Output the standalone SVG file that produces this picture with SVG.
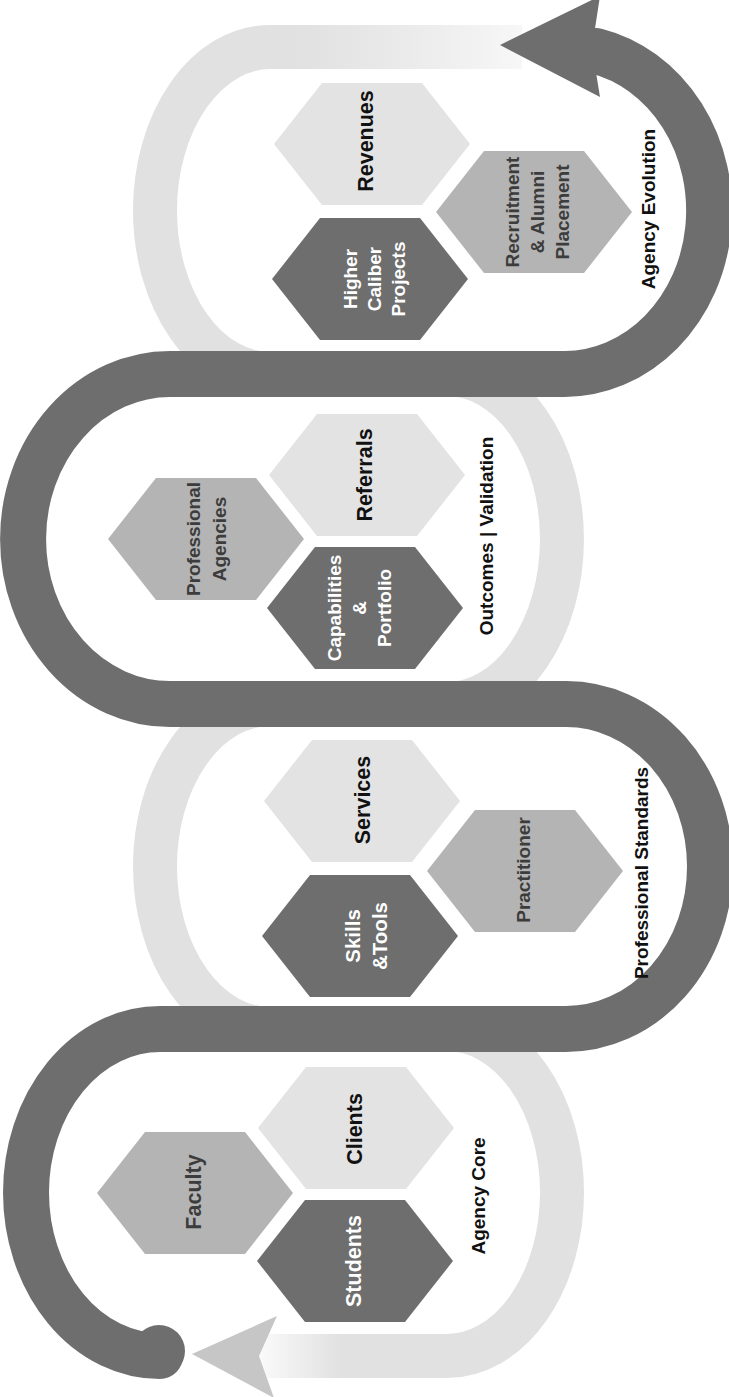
<svg xmlns="http://www.w3.org/2000/svg" xmlns:xlink="http://www.w3.org/1999/xlink" width="729" height="1397" viewBox="0 0 729 1397">
  <defs>
    <style>
      .dark { fill: #6e6e6e; }
      .mid { fill: #b4b4b4; }
      .light { fill: #e3e3e3; }
      .band-dark { fill: none; stroke: #6e6e6e; stroke-width: 46; stroke-linecap: round; }
      .band-light { fill: none; stroke: #e1e1e1; stroke-width: 44; }
      text { font-family: "Liberation Sans", Arial, sans-serif; font-weight: 700; text-anchor: middle; }
      .t-white { fill: #ffffff; }
      .t-black { fill: #111111; }
      .t-grey { fill: #3c3c3c; }
      .big { font-size: 21.5px; }
      .small { font-size: 19px; }
      .label { font-size: 19px; fill: #111111; }
    </style>
    <polygon id="hex" points="-98,0 -50,-61 50,-61 98,0 50,61 -50,61"/>
    <linearGradient id="fadeTop" gradientUnits="userSpaceOnUse" x1="300" y1="0" x2="522" y2="0">
      <stop offset="0" stop-color="#e1e1e1"/>
      <stop offset="0.5" stop-color="#ebebeb"/>
      <stop offset="1" stop-color="#f7f7f7"/>
    </linearGradient>
    <linearGradient id="fadeBottom" gradientUnits="userSpaceOnUse" x1="256" y1="0" x2="340" y2="0">
      <stop offset="0" stop-color="#fbfbfb"/>
      <stop offset="1" stop-color="#e1e1e1"/>
    </linearGradient>
  </defs>
  <rect width="729" height="1397" fill="#ffffff"/>

  <g id="connectors">
    <!-- light background snake -->
    <path class="band-light" d="M 301 47 L 270 47 A 115 163.5 0 0 0 270 374 L 447 374 A 115 165 0 0 1 447 704 L 270 704 A 115 162.5 0 0 0 270 1029 L 447 1029 A 115 163.5 0 0 1 447 1356 L 339 1356"/>
    <rect x="300" y="25" width="222" height="44" fill="url(#fadeTop)"/>
    <rect x="256" y="1334" width="84" height="44" fill="url(#fadeBottom)"/>
    <polygon points="192,1354 277,1316 259,1356 274,1398" fill="#c6c6c6"/>
    <!-- dark foreground snake -->
    <path class="band-dark" d="M 160 1356 A 134 163.5 0 0 1 160 1029 L 566 1029 A 144 162.5 0 0 0 566 704 L 170 704 A 147 165 0 0 1 170 374 L 565 374 A 145 163.5 0 0 0 596 51"/>
    <circle cx="159" cy="1351" r="26" fill="#6e6e6e"/>
    <polygon points="500,45 600,-4 592,48 600,97" fill="#6e6e6e"/>
  </g>

  <!-- Agency Evolution -->
  <g id="revenues">
    <use xlink:href="#hex" x="372" y="144" class="light"/>
    <text class="big t-black" transform="translate(373,141) rotate(-90)">Revenues</text>
  </g>
  <g id="higher-caliber-projects">
    <use xlink:href="#hex" x="370" y="279" class="dark"/>
    <text class="small t-white" transform="translate(357,279) rotate(-90)"><tspan x="0" y="0">Higher</tspan><tspan x="0" dy="24">Caliber</tspan><tspan x="0" dy="24">Projects</tspan></text>
  </g>
  <g id="recruitment-alumni-placement">
    <use xlink:href="#hex" x="534" y="212" class="mid"/>
    <text class="small t-grey" transform="translate(519,212) rotate(-90)"><tspan x="0" y="0">Recruitment</tspan><tspan x="0" dy="25">&amp; Alumni</tspan><tspan x="0" dy="25">Placement</tspan></text>
  </g>
  <g id="agency-evolution">
    <text class="label" transform="translate(655,209) rotate(-90)">Agency Evolution</text>
  </g>

  <!-- Outcomes | Validation -->
  <g id="referrals">
    <use xlink:href="#hex" x="367" y="475" class="light"/>
    <text class="big t-black" transform="translate(372,475) rotate(-90)">Referrals</text>
  </g>
  <g id="capabilities-portfolio">
    <use xlink:href="#hex" x="365" y="608" class="dark"/>
    <text class="small t-white" transform="translate(341,608) rotate(-90)"><tspan x="0" y="0">Capabilities</tspan><tspan x="0" dy="25">&amp;</tspan><tspan x="0" dy="25">Portfolio</tspan></text>
  </g>
  <g id="professional-agencies">
    <use xlink:href="#hex" x="206" y="539" class="mid"/>
    <text class="small t-grey" transform="translate(200,539) rotate(-90)"><tspan x="0" y="0">Professional</tspan><tspan x="0" dy="26">Agencies</tspan></text>
  </g>
  <g id="outcomes-validation">
    <text class="label" transform="translate(493,536) rotate(-90)">Outcomes | Validation</text>
  </g>

  <!-- Professional Standards -->
  <g id="services">
    <use xlink:href="#hex" x="362" y="801" class="light"/>
    <text class="big t-black" transform="translate(370,800) rotate(-90)">Services</text>
  </g>
  <g id="skills-tools">
    <use xlink:href="#hex" x="360" y="936" class="dark"/>
    <text class="t-white" style="font-size:20.5px" transform="translate(360,936) rotate(-90)"><tspan x="0" y="0">Skills</tspan><tspan x="0" dy="27">&amp;Tools</tspan></text>
  </g>
  <g id="practitioner">
    <use xlink:href="#hex" x="525" y="871" class="mid"/>
    <text class="small t-grey" transform="translate(530,870) rotate(-90)">Practitioner</text>
  </g>
  <g id="professional-standards">
    <text class="label" transform="translate(648,873) rotate(-90)">Professional Standards</text>
  </g>

  <!-- Agency Core -->
  <g id="clients">
    <use xlink:href="#hex" x="356" y="1128" class="light"/>
    <text class="big t-black" transform="translate(362,1129) rotate(-90)">Clients</text>
  </g>
  <g id="students">
    <use xlink:href="#hex" x="355" y="1261" class="dark"/>
    <text class="big t-white" transform="translate(361,1261) rotate(-90)">Students</text>
  </g>
  <g id="faculty">
    <use xlink:href="#hex" x="195" y="1193" class="mid"/>
    <text class="big t-grey" transform="translate(201,1192) rotate(-90)">Faculty</text>
  </g>
  <g id="agency-core">
    <text class="label" transform="translate(485,1196) rotate(-90)">Agency Core</text>
  </g>
</svg>
